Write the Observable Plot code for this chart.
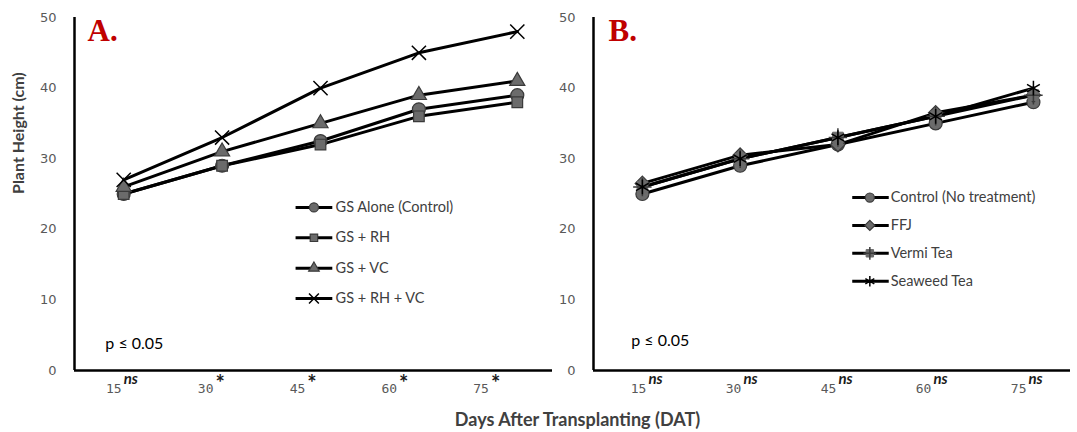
<!DOCTYPE html>
<html>
<head>
<meta charset="utf-8">
<script src="https://cdn.jsdelivr.net/npm/d3@7"></script>
<script src="https://cdn.jsdelivr.net/npm/@observablehq/plot@0.6"></script>
<style>
  html, body { margin: 0; padding: 0; background: #fff; }
  #wrap { position: relative; width: 1077px; height: 432px; overflow: hidden; }
  #row { display: flex; flex-direction: row; }
  #xtitle { position: absolute; left: 0; width: 1155px; top: 408px; text-align: center;
            font: bold 18px Lato, sans-serif; color: #404040; }
</style>
</head>
<body>
<div id="wrap">
  <div id="row"></div>
  <div id="xtitle">Days After Transplanting (DAT)</div>
</div>
<script>
// ---- data ----
const days = [15, 30, 45, 60, 75];
const yTicks = [0, 10, 20, 30, 40, 50];

const seriesA = ["GS Alone (Control)", "GS + RH", "GS + VC", "GS + RH + VC"];
const gsAlone = [25, 29, 32.5, 37, 39];
const gsRH    = [25, 29, 32, 36, 38];
const gsVC    = [26, 31, 35, 39, 41];
const gsRHVC  = [27, 33, 40, 45, 48];
const sigA = ["ns", "*", "*", "*", "*"];

const seriesB = ["Control (No treatment)", "FFJ", "Vermi Tea", "Seaweed Tea"];
const control = [25, 29, 32, 35, 38];
const ffj     = [26.5, 30.5, 32, 36.5, 39];
const vermi   = [26, 30, 33, 36, 39];
const seaweed = [26, 30, 33, 36, 40];
const sigB = ["ns", "ns", "ns", "ns", "ns"];

// ---- styles ----
const GRAY = "#6b6b6b", DARK = "#3a3a3a";
const markerA = [
  [{symbol: "circle", r: 6.5, fill: GRAY, stroke: DARK, strokeWidth: 1.2}],
  [{symbol: "square", r: 6, fill: GRAY, stroke: DARK, strokeWidth: 1.2}],
  [{symbol: "triangle", r: 5.6, fill: GRAY, stroke: DARK, strokeWidth: 1.2}],
  [{symbol: "times", r: 6.5, fill: "none", stroke: "black", strokeWidth: 1.5}]
];
const markerB = [
  [{symbol: "circle", r: 6.5, fill: GRAY, stroke: DARK, strokeWidth: 1.2}],
  [{symbol: "diamond2", r: 6.5, fill: GRAY, stroke: DARK, strokeWidth: 1.2}],
  [{symbol: "square", r: 6, fill: GRAY, stroke: GRAY, strokeWidth: 1},
   {symbol: "plus", r: 6, fill: "none", stroke: DARK, strokeWidth: 1.5}],
  [{symbol: "asterisk", r: 7, fill: "none", stroke: "black", strokeWidth: 1.5}]
];

function panel(cfg) {
  const rows = cfg.series.flatMap((s, i) => days.map((d, j) => ({series: s, day: d, value: cfg.values[i][j]})));
  const sigRows = days.map((d, i) => ({day: d, sig: cfg.sig[i]}));
  const marks = [];
  // axes lines
  marks.push(Plot.ruleY([0], {stroke: "black", strokeWidth: 2.5}));
  marks.push(Plot.ruleX([7.5], {stroke: "black", strokeWidth: 2.5}));
  // y tick labels
  marks.push(Plot.text(yTicks, {x: 7.5, y: d => d, text: d => String(d), dx: -18, textAnchor: "end",
    fill: "#595959", fontSize: 13, fontFamily: "DejaVu Sans"}));
  // x tick labels + significance marks
  marks.push(Plot.text(days, {x: d => 15 + (d - 15) * cfg.stretch, y: 0, text: d => String(d), dx: cfg.shift - 1, dy: 18,
    textAnchor: "end", fill: "#595959", fontSize: 13, fontFamily: "DejaVu Sans Mono"}));
  marks.push(Plot.text(sigRows.filter(r => r.sig === "ns"), {x: r => 15 + (r.day - 15) * cfg.stretch, y: 0, text: "sig",
    dx: cfg.shift + 1, dy: 9, textAnchor: "start", fill: "#1a1a1a", fontSize: 15, fontWeight: "bold",
    fontStyle: "italic", fontFamily: "Lato"}));
  marks.push(Plot.text(sigRows.filter(r => r.sig === "*"), {x: r => 15 + (r.day - 15) * cfg.stretch, y: 0, text: "sig",
    dx: cfg.shift + 1, dy: 13, textAnchor: "start", fill: "#1a1a1a", fontSize: 22, fontWeight: "bold",
    fontFamily: "Lato"}));
  // lines
  cfg.series.forEach(s => {
    marks.push(Plot.line(rows.filter(r => r.series === s), {x: "day", y: "value", stroke: "black", strokeWidth: 3}));
  });
  // markers
  cfg.series.forEach((s, i) => {
    cfg.markers[i].forEach(m => marks.push(Plot.dot(rows.filter(r => r.series === s), {x: "day", y: "value", ...m})));
  });
  // legend
  const L = cfg.legend;
  cfg.series.forEach((s, i) => {
    const yy = L.y0 - i * L.step;
    marks.push(Plot.link([s], {x1: L.x1, x2: L.x2, y1: yy, y2: yy, stroke: "black", strokeWidth: 3}));
    cfg.markers[i].forEach(m => marks.push(Plot.dot([s], {x: L.xm, y: yy, ...m, r: m.r * 0.7})));
    marks.push(Plot.text([s], {x: L.xt, y: yy, text: d => d, textAnchor: "start", fill: "#404040",
      fontSize: 14.5, fontFamily: "Lato"}));
  });
  // p value
  marks.push(Plot.text(["p \u2264 0.05"], {x: cfg.p[0], y: cfg.p[1], text: d => d, textAnchor: "start",
    fill: "black", fontSize: 16, fontFamily: "Lato"}));
  // panel letter
  marks.push(Plot.text([cfg.letter], {frameAnchor: "top-left", text: d => d, dx: cfg.letterDx, dy: 1, lineAnchor: "top",
    textAnchor: "start", fill: "#c00000", fontSize: 31, fontWeight: "bold", fontFamily: "Liberation Serif"}));
  if (cfg.ylabel) {
    marks.push(Plot.text([cfg.ylabel], {frameAnchor: "left", text: d => d, dx: -56, rotate: -90,
      fill: "#404040", fontSize: 16, fontWeight: "bold", fontFamily: "Lato"}));
  }
  return Plot.plot({
    width: cfg.width, height: 400,
    marginTop: 17, marginBottom: 30, marginLeft: cfg.mLeft, marginRight: cfg.mRight,
    x: {domain: [7.5, 82.5], range: cfg.xRange, axis: null},
    y: {domain: [0, 50], axis: null},
    style: {overflow: "visible", background: "transparent"},
    marks
  });
}

const row = document.getElementById("row");
row.append(panel({
  series: seriesA, values: [gsAlone, gsRH, gsVC, gsRHVC], markers: markerA, sig: sigA,
  width: 556, mLeft: 74, mRight: 4, xRange: [74, 566], stretch: 0.933, shift: -1,
  legend: {x1: 41.2, x2: 46.8, xm: 44.0, xt: 47.3, y0: 23.1, step: 4.3},
  p: [12.2, 3.8], letter: "A.", letterDx: 13, ylabel: "Plant Height (cm)"
}));
row.append(panel({
  series: seriesB, values: [control, ffj, vermi, seaweed], markers: markerB, sig: sigB,
  width: 521, mLeft: 37, mRight: 7, xRange: [37, 525.8], stretch: 0.972, shift: 5,
  legend: {x1: 47.2, x2: 52.8, xm: 49.9, xt: 53.1, y0: 24.5, step: 3.95},
  p: [13.3, 4.2], letter: "B.", letterDx: 15, ylabel: null
}));
</script>
</body>
</html>
